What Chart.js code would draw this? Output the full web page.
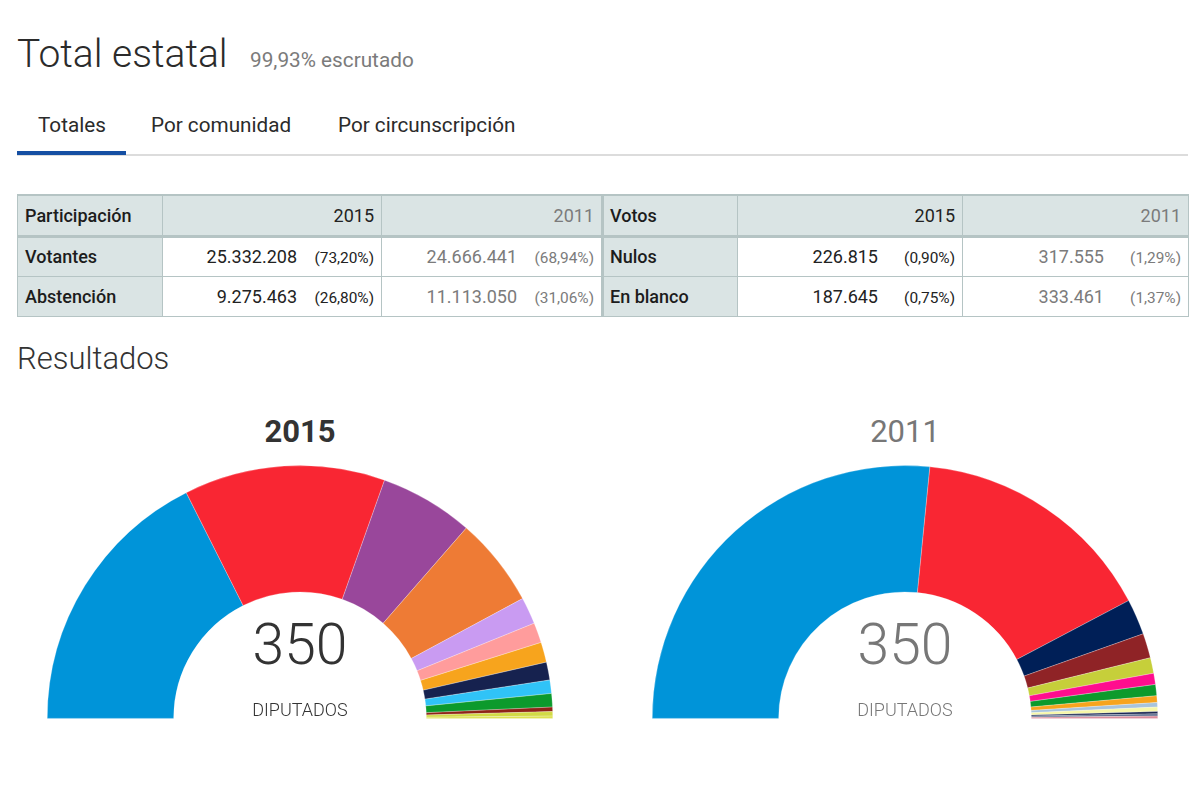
<!DOCTYPE html>
<html lang="es"><head><meta charset="utf-8">
<script src="https://cdn.jsdelivr.net/npm/chart.js@4"></script>
<style>
html,body{margin:0;padding:0;background:#fff;width:1200px;height:793px;overflow:hidden;font-family:Roboto,sans-serif}
.a{position:absolute;white-space:nowrap;line-height:1}
table{position:absolute;left:17px;top:194px;width:1171px;border-collapse:collapse;table-layout:fixed;font-size:18px;color:#222}
tr{height:40px}
tr:first-child{height:41px}
td,th{border:1px solid #b5c4c4;padding:0 7px;font-weight:400;text-align:right;box-sizing:border-box}
tr:first-child td{border-bottom:3px solid #b5c4c4;border-top:2px solid #b5c4c4}
td.l{background:#dae4e4;text-align:left;font-weight:500;color:#1c1c1c}
td.sep{border-left:3px solid #b5c4c4;padding-left:6px}
.h{background:#dae4e4}
.o{color:#7b7b7b}
small{display:inline-block;width:77px;font-size:15.4px;text-align:right}
.box{position:absolute;width:506px;height:254px;top:465px}
</style></head><body>
<div class="a" style="left:17px;top:35px;font-size:39px;font-weight:300;color:#2b2b2b">Total estatal</div>
<div class="a" style="left:250px;top:50px;font-size:20.75px;color:#7b7b7b">99,93% escrutado</div>
<div class="a" style="left:38px;top:115px;font-size:20.7px;color:#2b2b2b">Totales</div>
<div class="a" style="left:151px;top:115px;font-size:20.7px;color:#2b2b2b">Por comunidad</div>
<div class="a" style="left:338px;top:115px;font-size:20.7px;color:#2b2b2b">Por circunscripción</div>
<div class="a" style="left:17px;top:154px;width:1171px;height:2px;background:#dcdcdc"></div>
<div class="a" style="left:17px;top:151px;width:109px;height:4px;background:#154fa3"></div>
<table id="t"><colgroup><col style="width:145px"><col style="width:219px"><col style="width:221px"><col style="width:135px"><col style="width:225px"><col style="width:226px"></colgroup><tbody></tbody></table>
<div class="a" style="left:17px;top:343px;font-size:31px;font-weight:300;color:#333">Resultados</div>

<div class="a" style="left:200px;width:200px;text-align:center;top:416px;font-size:31px;font-weight:700;color:#333">2015</div>
<div class="a" style="left:805px;width:200px;text-align:center;top:416px;font-size:31px;color:#777">2011</div>
<div class="box" style="left:47px"><canvas id="c15"></canvas></div>
<div class="box" style="left:652px"><canvas id="c11"></canvas></div>
<div class="a" style="left:200px;width:200px;text-align:center;top:616px;font-size:57px;font-weight:300;color:#333">350</div>
<div class="a" style="left:805px;width:200px;text-align:center;top:616px;font-size:57px;font-weight:300;color:#777">350</div>
<div class="a" style="left:200px;width:200px;text-align:center;top:701px;font-size:18px;font-weight:300;color:#333">DIPUTADOS</div>
<div class="a" style="left:805px;width:200px;text-align:center;top:701px;font-size:18px;font-weight:300;color:#777">DIPUTADOS</div>
<script>
const parties2015 = ["PP","PSOE","Podemos","C's","En Comú","Compromís-Podemos","ERC","DL","PNV","En Marea","IU-UP","EH Bildu","CC"];
const seats2015 = [123,90,42,40,12,9,9,8,6,6,2,2,1];
const colors2015 = ["#0094d9","#f92633","#99479b","#ee7b35","#c99bf2","#ff9c9c","#f7a41d","#16224f","#30c3f7","#0c9a2c","#8f2317","#d2da45","#dce04c"];
const parties2011 = ["PP","PSOE","CiU","IU","Amaiur","UPyD","PNV","ERC","BNG","CC","Compromís","FAC","GBai"];
const seats2011 = [186,110,16,11,7,5,5,3,2,2,1,1,1];
const colors2011 = ["#0094d9","#f92633","#001f57","#8f2326","#c6cf3a","#ff0d8e","#0c9a2c","#f7a41d","#a8c4dc","#f7f7a8","#16224f","#5f6f8f","#d98a9a"];
const tableRows = [
 ["Participación","2015","","2011","","Votos","2015","","2011",""],
 ["Votantes","25.332.208","(73,20%)","24.666.441","(68,94%)","Nulos","226.815","(0,90%)","317.555","(1,29%)"],
 ["Abstención","9.275.463","(26,80%)","11.113.050","(31,06%)","En blanco","187.645","(0,75%)","333.461","(1,37%)"]
];
const body=document.querySelector('#t tbody');
tableRows.forEach((r,i)=>{
 const tr=document.createElement('tr');
 const cell=(v,s,cls)=>{const td=document.createElement('td');td.className=cls;td.textContent=v;
   if(s){const m=document.createElement('small');m.textContent=s;td.appendChild(m);}tr.appendChild(td);};
 const h=i===0?'h ':'';
 cell(r[0],'', 'l'); cell(r[1],r[2],h); cell(r[3],r[4],h+'o');
 cell(r[5],'', 'l sep'); cell(r[6],r[7],h); cell(r[8],r[9],h+'o');
 body.appendChild(tr);
});
function draw(id,labels,data,colors){
 new Chart(document.getElementById(id),{type:'doughnut',
  data:{labels,datasets:[{data,backgroundColor:colors,borderColor:'rgba(255,255,255,0.5)',borderWidth:0.5}]},
  options:{responsive:true,maintainAspectRatio:false,animation:false,rotation:-90,circumference:180,cutout:'50%',
   layout:{padding:0},plugins:{legend:{display:false},tooltip:{enabled:false}}}});
}
draw('c15',parties2015,seats2015,colors2015);
draw('c11',parties2011,seats2011,colors2011);
</script>
</body></html>
